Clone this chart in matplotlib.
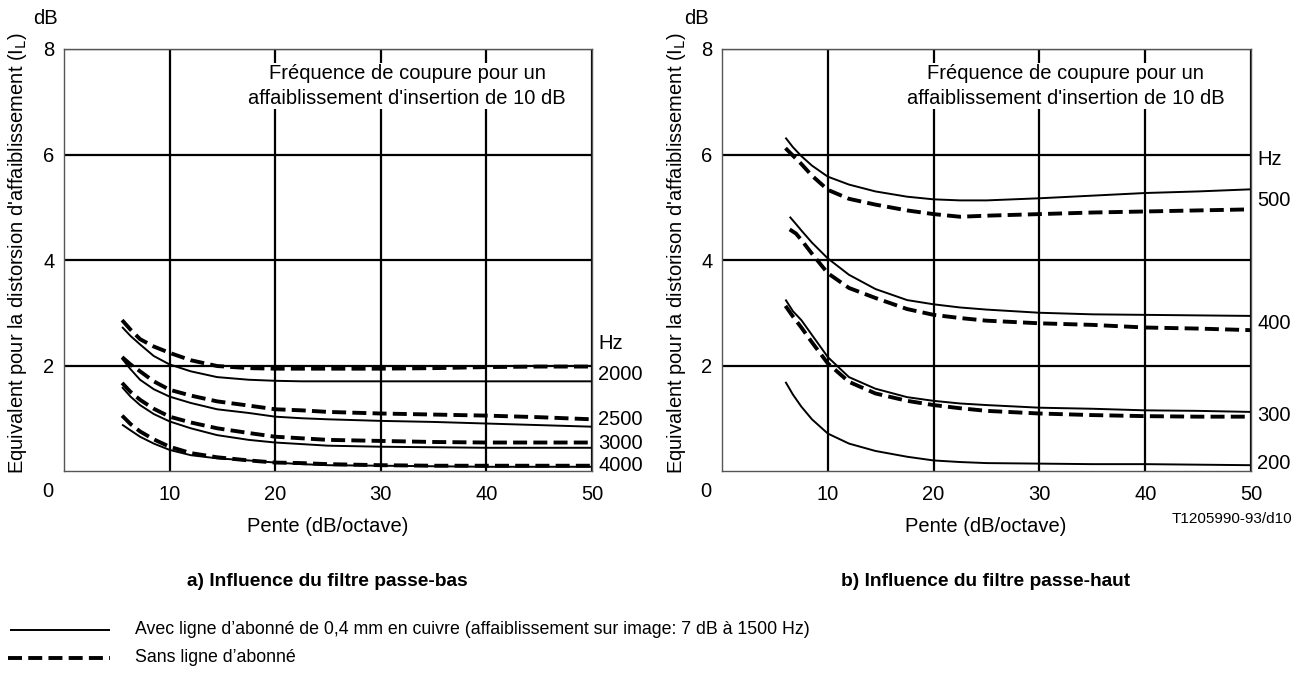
import matplotlib
matplotlib.use('Agg')
from matplotlib import pyplot as plt

plt.rcParams['font.family'] = ['Liberation Sans', 'DejaVu Sans']

# --- a) passe-bas : x = pente (dB/octave)
x_low = [5.5, 6.3, 7.2, 8.5, 10, 12, 14.5, 17.5, 20, 22.5, 25, 30, 35, 40, 45, 50]
low_2000_solid = [2.73, 2.56, 2.40, 2.18, 2.02, 1.89, 1.78, 1.73, 1.71, 1.70, 1.70, 1.70, 1.70, 1.70, 1.70, 1.70]
low_2000_dash = [2.86, 2.68, 2.50, 2.36, 2.24, 2.10, 1.99, 1.95, 1.94, 1.94, 1.94, 1.94, 1.95, 1.97, 1.98, 1.98]
low_2500_solid = [2.13, 1.93, 1.73, 1.55, 1.41, 1.29, 1.17, 1.10, 1.03, 1.00, 0.98, 0.95, 0.93, 0.90, 0.87, 0.84]
low_2500_dash = [2.16, 2.02, 1.89, 1.70, 1.54, 1.43, 1.32, 1.24, 1.17, 1.15, 1.12, 1.09, 1.07, 1.05, 1.02, 0.98]
low_3000_solid = [1.59, 1.41, 1.25, 1.08, 0.94, 0.81, 0.68, 0.59, 0.54, 0.51, 0.48, 0.46, 0.45, 0.44, 0.44, 0.44]
low_3000_dash = [1.67, 1.50, 1.35, 1.18, 1.03, 0.92, 0.81, 0.72, 0.65, 0.62, 0.59, 0.57, 0.55, 0.54, 0.54, 0.54]
low_4000_solid = [0.88, 0.77, 0.65, 0.52, 0.40, 0.30, 0.24, 0.20, 0.16, 0.13, 0.11, 0.10, 0.09, 0.08, 0.08, 0.08]
low_4000_dash = [1.05, 0.89, 0.75, 0.60, 0.46, 0.34, 0.26, 0.20, 0.16, 0.15, 0.13, 0.11, 0.10, 0.10, 0.10, 0.10]
low_labels = ['2000', '2500', '3000', '4000']
low_label_y = [1.83, 0.97, 0.53, 0.10]

# --- b) passe-haut
x_high = [6, 6.7, 7.5, 8.5, 10, 12, 14.5, 17.5, 20, 22.5, 25, 30, 35, 40, 45, 50]
x_high_400 = [6.4, 7, 7.5, 8.5, 10, 12, 14.5, 17.5, 20, 22.5, 25, 30, 35, 40, 45, 50]
high_500_solid = [6.32, 6.14, 5.97, 5.79, 5.58, 5.43, 5.30, 5.20, 5.15, 5.13, 5.13, 5.17, 5.22, 5.27, 5.30, 5.34]
high_500_dash = [6.12, 5.98, 5.82, 5.60, 5.33, 5.16, 5.05, 4.94, 4.87, 4.82, 4.84, 4.87, 4.90, 4.92, 4.94, 4.96]
high_400_solid = [4.82, 4.68, 4.56, 4.33, 4.03, 3.72, 3.45, 3.24, 3.16, 3.10, 3.06, 3.00, 2.97, 2.96, 2.95, 2.94]
high_400_dash = [4.58, 4.50, 4.38, 4.12, 3.75, 3.47, 3.28, 3.07, 2.96, 2.90, 2.85, 2.80, 2.77, 2.72, 2.70, 2.67]
high_300_solid = [3.25, 3.03, 2.86, 2.58, 2.16, 1.78, 1.56, 1.40, 1.33, 1.28, 1.25, 1.20, 1.18, 1.15, 1.14, 1.12]
high_300_dash = [3.13, 2.93, 2.72, 2.44, 2.04, 1.69, 1.47, 1.33, 1.25, 1.19, 1.14, 1.09, 1.06, 1.04, 1.03, 1.03]
high_200_solid = [1.69, 1.45, 1.22, 0.98, 0.71, 0.52, 0.38, 0.27, 0.20, 0.17, 0.15, 0.14, 0.13, 0.13, 0.12, 0.11]
high_labels = ['500', '400', '300', '200']
high_label_y = [5.12, 2.80, 1.06, 0.15]

x_ticks = [10, 20, 30, 40, 50]
y_ticks = [2, 4, 6, 8]

FS = 14.5
SOLID = dict(color='black', lw=1.4, solid_capstyle='butt', solid_joinstyle='round')
DASH = dict(color='black', lw=2.8, dashes=(3.6, 1.6), dash_capstyle='butt')

W, H = 1308, 675
fig = plt.figure(figsize=(W / 100, H / 100), dpi=100)


def px_axes(x0, x1, y0, y1):
    return fig.add_axes([x0 / W, 1 - y1 / H, (x1 - x0) / W, (y1 - y0) / H])


def setup(ax, ylabel_x, dB_x, ylabel):
    ax.set_xlim(0, 50)
    ax.set_ylim(0, 8)
    ax.set_xticks(x_ticks)
    ax.set_yticks(y_ticks)
    ax.tick_params(length=0, labelsize=FS, pad=10)
    ax.tick_params(axis='y', pad=7)
    ax.grid(True, color='black', lw=1.6)
    ax.set_axisbelow(True)
    for s in ax.spines.values():
        s.set_color('#555555')
        s.set_linewidth(1.0)
    ax.text(-1.5, -0.21, '0', fontsize=FS, ha='center', va='top')
    ax.text(32.5, 7.3, "Fréquence de coupure pour un\naffaiblissement d'insertion de 10 dB",
            fontsize=FS, ha='center', va='center', linespacing=1.35,
            bbox=dict(facecolor='white', edgecolor='none', pad=1), zorder=3)
    fig.text(dB_x / W, 1 - 19 / H, 'dB', fontsize=FS, ha='center', va='center')
    fig.text(ylabel_x / W, 1 - 253 / H, ylabel, fontsize=FS, rotation=90,
             ha='center', va='center')


ax1 = px_axes(64, 592, 49, 471)
setup(ax1, 18, 45, r"Equivalent pour la distorsion d'affaiblissement (I$_{\rm L}$)")
ax1.plot(x_low, low_2000_solid, **SOLID)
ax1.plot(x_low, low_2000_dash, **DASH)
ax1.plot(x_low, low_2500_solid, **SOLID)
ax1.plot(x_low, low_2500_dash, **DASH)
ax1.plot(x_low, low_3000_solid, **SOLID)
ax1.plot(x_low, low_3000_dash, **DASH)
ax1.plot(x_low, low_4000_solid, **SOLID)
ax1.plot(x_low, low_4000_dash, **DASH)
ax1.text(50.6, 2.41, 'Hz', fontsize=FS, va='center', ha='left', clip_on=False)
for lab, yy in zip(low_labels, low_label_y):
    ax1.text(50.6, yy, lab, fontsize=FS, va='center', ha='left', clip_on=False)

ax2 = px_axes(722, 1251, 49, 471)
setup(ax2, 676, 696, r"Equivalent pour la distorison d'affaiblissement (I$_{\rm L}$)")
ax2.plot(x_high, high_500_solid, **SOLID)
ax2.plot(x_high, high_500_dash, **DASH)
ax2.plot(x_high_400, high_400_solid, **SOLID)
ax2.plot(x_high_400, high_400_dash, **DASH)
ax2.plot(x_high, high_300_solid, **SOLID)
ax2.plot(x_high, high_300_dash, **DASH)
ax2.plot(x_high, high_200_solid, **SOLID)
ax2.text(50.6, 5.9, 'Hz', fontsize=FS, va='center', ha='left', clip_on=False)
for lab, yy in zip(high_labels, high_label_y):
    ax2.text(50.6, yy, lab, fontsize=FS, va='center', ha='left', clip_on=False)

# x labels, sub-titles, reference
fig.text(328 / W, 1 - 526 / H, 'Pente (dB/octave)', fontsize=FS, ha='center', va='center')
fig.text(986 / W, 1 - 526 / H, 'Pente (dB/octave)', fontsize=FS, ha='center', va='center')
fig.text(1292 / W, 1 - 519 / H, 'T1205990-93/d10', fontsize=11, ha='right', va='center')
fig.text(327 / W, 1 - 581 / H, 'a) Influence du filtre passe-bas', fontsize=13.8,
         fontweight='bold', ha='center', va='center')
fig.text(986 / W, 1 - 581 / H, 'b) Influence du filtre passe-haut', fontsize=13.8,
         fontweight='bold', ha='center', va='center')

# legend
fig.add_artist(plt.Line2D([10 / W, 110 / W], [1 - 630 / H, 1 - 630 / H], **SOLID))
fig.add_artist(plt.Line2D([8 / W, 110 / W], [1 - 658 / H, 1 - 658 / H], **DASH))
fig.text(135 / W, 1 - 630 / H,
         'Avec ligne d’abonné de 0,4 mm en cuivre (affaiblissement sur image: 7 dB à 1500 Hz)',
         fontsize=12.8, ha='left', va='center')
fig.text(135 / W, 1 - 658 / H, 'Sans ligne d’abonné', fontsize=12.8, ha='left', va='center')

fig.savefig('out.png', dpi=100)
